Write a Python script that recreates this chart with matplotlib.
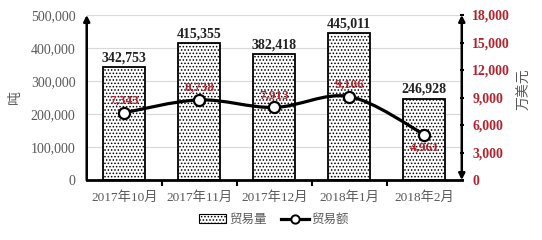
import numpy as np
import matplotlib.pyplot as plt
from matplotlib.path import Path
from matplotlib.patches import PathPatch
from matplotlib.lines import Line2D
from matplotlib.patches import Patch
from matplotlib.ticker import FuncFormatter

months = ['2017年10月', '2017年11月', '2017年12月', '2018年1月', '2018年2月']
volume = [342753, 415355, 382418, 445011, 246928]   # 吨
value = [7343, 8738, 7913, 9106, 4961]               # 万美元

SERIF = ['Liberation Serif', 'Noto Sans CJK SC']
CJK = ['Noto Sans CJK SC', 'DejaVu Sans']
RED = '#B22530'
GRAY = '#595959'

plt.rcParams['hatch.linewidth'] = 0.7

fig = plt.figure(figsize=(5.42, 2.4), dpi=100)
ax = fig.add_axes([0.160, 0.25, 0.692, 0.6875])
ax2 = ax.twinx()

x = np.arange(len(months))
ax.bar(x, volume, width=0.56, color='white', edgecolor='black', linewidth=1.3,
       hatch='.....', zorder=2)
for xi, v in zip(x, volume):
    ax.text(xi, v + 8000, f'{v:,}', ha='center', va='bottom', fontsize=10,
            fontweight='bold', family=SERIF, color='#222222')

ax.set_xlim(-0.5, len(months) - 0.5)
ax.set_ylim(0, 500000)
ax.set_yticks(np.arange(0, 500001, 100000))
ax.yaxis.set_major_formatter(FuncFormatter(lambda v, p: f'{int(v):,}'))
ax.grid(axis='y', color='#D9D9D9', linewidth=0.8, zorder=0)
ax.set_axisbelow(True)
ax.set_xticks(x)
ax.set_xticklabels(months, family=SERIF, fontsize=9.5, color=GRAY)
ax.set_xticks(np.arange(0.5, len(months) - 1, 1), minor=True)
ax.tick_params(axis='x', which='major', length=0, pad=8)
ax.tick_params(axis='x', which='minor', length=4, width=1.5, direction='out')
ax.tick_params(axis='y', length=0, labelsize=10, labelcolor=GRAY, pad=8)
for lab in ax.get_yticklabels():
    lab.set_family(SERIF)
for s in ['top', 'right', 'left']:
    ax.spines[s].set_visible(False)
ax.spines['bottom'].set_linewidth(2)
ax.set_ylabel('吨', family=CJK, fontsize=10, color=GRAY)
ax.yaxis.set_label_coords(-0.173, 0.5)

# secondary axis
ax2.set_ylim(0, 18000)
ax2.set_yticks(np.arange(0, 18001, 3000))
ax2.yaxis.set_major_formatter(FuncFormatter(lambda v, p: f'{int(v):,}'))
ax2.tick_params(axis='y', length=3, width=1.5, direction='inout',
                labelsize=10, labelcolor=RED, pad=6)
for lab in ax2.get_yticklabels():
    lab.set_family(SERIF)
    lab.set_fontweight('bold')
for s in ax2.spines:
    ax2.spines[s].set_visible(False)
ax2.set_ylabel('万美元', family=CJK, fontsize=10, color=GRAY)
ax2.yaxis.set_label_coords(1.147, 0.55)

# axis arrows
ax.annotate('', xy=(0, 1.0), xytext=(0, 0), xycoords='axes fraction',
            arrowprops=dict(arrowstyle='-|>', lw=1.8, color='black',
                            mutation_scale=9, shrinkA=0, shrinkB=0))
ax.annotate('', xy=(1, 1.0), xytext=(1, 0), xycoords='axes fraction',
            arrowprops=dict(arrowstyle='<|-|>', lw=1.8, color='black',
                            mutation_scale=9, shrinkA=0, shrinkB=0))

# smoothed line (Catmull-Rom as bezier)
pts = np.column_stack([x, value]).astype(float)
ext = np.vstack([pts[0], pts, pts[-1]])
verts = [tuple(pts[0])]
codes = [Path.MOVETO]
for i in range(len(pts) - 1):
    p0, p1, p2, p3 = ext[i], ext[i + 1], ext[i + 2], ext[i + 3]
    c1 = p1 + (p2 - p0) / 6
    c2 = p2 - (p3 - p1) / 6
    verts += [tuple(c1), tuple(c2), tuple(p2)]
    codes += [Path.CURVE4] * 3
ax2.add_patch(PathPatch(Path(verts, codes), facecolor='none', edgecolor='black',
                        linewidth=2.3, zorder=3))
ax2.plot(x, value, linestyle='none', marker='o', markersize=8,
         markerfacecolor='white', markeredgecolor='black', markeredgewidth=1.6,
         zorder=4)
for i, (xi, v) in enumerate(zip(x, value)):
    if i == len(value) - 1:
        ax2.text(xi, v - 700, f'{v:,}', ha='center', va='top', fontsize=9.5,
                 fontweight='bold', family=SERIF, color=RED, zorder=5)
    else:
        ax2.text(xi, v + 700, f'{v:,}', ha='center', va='bottom', fontsize=9.5,
                 fontweight='bold', family=SERIF, color=RED, zorder=5)

handles = [Patch(facecolor='white', edgecolor='black', hatch='.....', linewidth=0.8),
           Line2D([], [], color='black', linewidth=2.3, marker='o', markersize=6,
                  markerfacecolor='white', markeredgecolor='black', markeredgewidth=1.4)]
fig.legend(handles, ['贸易量', '贸易额'], loc='center', bbox_to_anchor=(0.505, 0.085),
           ncol=2, frameon=False, prop={'family': CJK, 'size': 9},
           labelcolor=GRAY, handlelength=2.2, handletextpad=0.2, columnspacing=1.2)

fig.savefig('out.png', dpi=100)
